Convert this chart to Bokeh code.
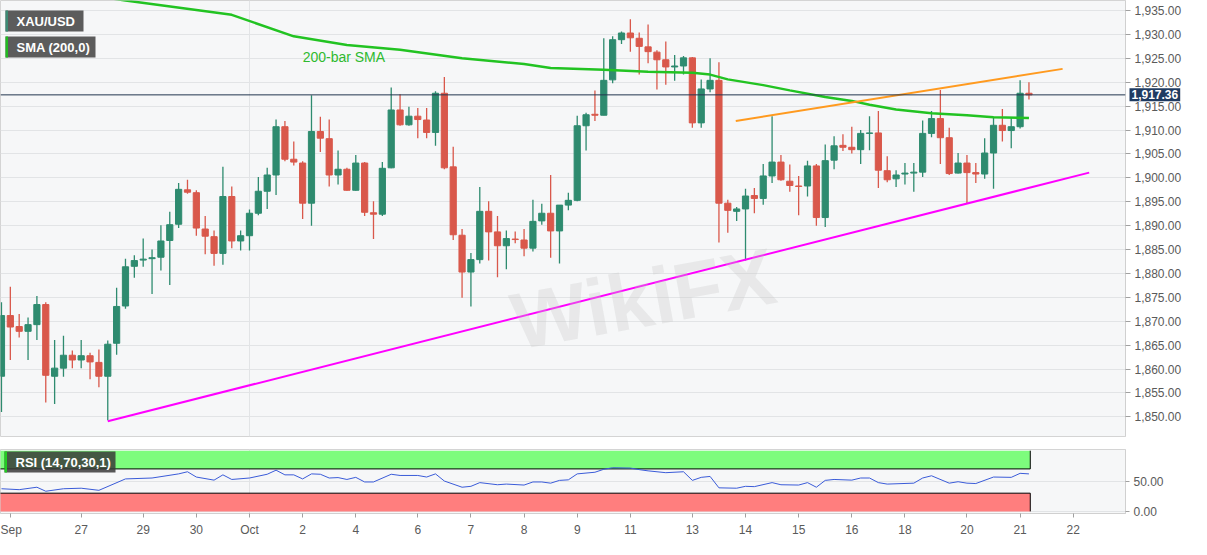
from bokeh.plotting import figure
from bokeh.layouts import column
from bokeh.models import (Range1d, SingleIntervalTicker, FixedTicker, NumeralTickFormatter,
                          Label, BoxAnnotation, Span, ColumnDataSource)
from bokeh.embed import file_html
from bokeh.resources import INLINE

# ---------------- data (4H XAU/USD candles) ----------------
opens = [1858.5, 1871.2, 1868.9, 1867.9, 1869.3, 1873.5, 1858.5, 1860.2, 1862.9, 1861.9,
         1862.8, 1861.4, 1858.5, 1865.4, 1873.2, 1881.5, 1882.8, 1883.1, 1883.4, 1886.9,
         1890.3, 1897.5, 1896.9, 1889.3, 1887.7, 1884.2, 1896.1, 1886.8, 1887.9, 1892.6,
         1897.2, 1900.6, 1910.7, 1903.9, 1903.1, 1894.7, 1909.7, 1908.2, 1900.6, 1901.8,
         1897.4, 1903.1, 1892.7, 1892.4, 1902.1, 1914.2, 1911.1, 1912.9, 1912.1, 1909.5,
         1917.7, 1902.3, 1888.0, 1880.3, 1882.9, 1893.0, 1888.7, 1885.8, 1887.2, 1887.0,
         1885.3, 1891.0, 1892.6, 1888.9, 1894.3, 1895.3, 1910.9, 1913.3, 1913.1, 1920.5,
         1928.9, 1930.3, 1929.2, 1927.4, 1926.3, 1924.7, 1923.2, 1923.4, 1925.1, 1911.5,
         1918.6, 1920.4, 1894.7, 1893.0, 1893.5, 1896.3, 1895.7, 1900.4, 1903.3, 1899.3,
         1898.3, 1898.3, 1902.5, 1891.7, 1903.7, 1906.8, 1906.4, 1905.9, 1909.3, 1909.4,
         1901.5, 1899.8, 1900.8, 1901.0, 1901.2, 1909.3, 1912.4, 1908.4, 1901.0, 1903.1,
         1901.1, 1900.8, 1905.2, 1911.0, 1909.9, 1910.7, 1917.7]
highs = [1874.0, 1877.2, 1871.5, 1870.8, 1875.3, 1874.0, 1866.1, 1867.0, 1863.9, 1866.1,
         1863.4, 1864.1, 1866.0, 1877.0, 1883.1, 1883.8, 1887.3, 1885.0, 1890.1, 1892.9,
         1898.9, 1899.6, 1897.4, 1892.0, 1889.0, 1902.3, 1898.2, 1889.0, 1893.4, 1900.2,
         1902.1, 1912.2, 1911.9, 1907.6, 1903.5, 1917.3, 1912.8, 1912.2, 1905.7, 1902.1,
         1904.8, 1903.3, 1895.1, 1903.3, 1918.9, 1917.5, 1914.9, 1914.6, 1914.6, 1918.1,
         1921.1, 1906.5, 1889.3, 1884.3, 1898.1, 1895.1, 1892.0, 1889.0, 1888.8, 1889.3,
         1895.4, 1894.6, 1900.6, 1894.3, 1896.9, 1913.0, 1913.6, 1918.3, 1929.2, 1929.6,
         1930.6, 1933.2, 1930.4, 1932.1, 1926.7, 1928.5, 1925.7, 1925.5, 1925.3, 1920.6,
         1925.0, 1924.2, 1895.4, 1893.9, 1897.7, 1897.9, 1902.9, 1912.9, 1904.8, 1902.8,
         1900.4, 1903.6, 1902.9, 1907.0, 1908.7, 1909.1, 1910.7, 1910.0, 1912.9, 1914.0,
         1904.5, 1901.6, 1903.1, 1903.1, 1912.0, 1914.0, 1918.4, 1910.5, 1905.2, 1904.8,
         1903.1, 1908.3, 1912.6, 1914.4, 1912.6, 1920.4, 1920.0]
lows = [1851.0, 1861.9, 1866.6, 1861.9, 1866.1, 1853.0, 1852.7, 1858.4, 1860.2, 1860.2,
        1857.9, 1856.2, 1849.3, 1863.0, 1872.6, 1879.1, 1881.4, 1875.7, 1880.6, 1877.6,
        1889.5, 1896.7, 1887.9, 1884.0, 1881.6, 1881.8, 1885.3, 1884.8, 1884.8, 1892.2,
        1893.5, 1896.4, 1903.5, 1902.6, 1891.4, 1890.0, 1905.4, 1898.2, 1898.6, 1897.3,
        1897.3, 1892.0, 1887.2, 1892.0, 1902.0, 1910.9, 1910.9, 1908.3, 1908.3, 1906.7,
        1901.8, 1887.0, 1874.9, 1873.1, 1882.1, 1882.7, 1879.2, 1880.9, 1886.3, 1883.6,
        1884.6, 1890.2, 1883.3, 1882.1, 1893.2, 1895.1, 1905.7, 1911.9, 1913.1, 1919.8,
        1928.0, 1926.4, 1921.6, 1924.0, 1918.5, 1919.5, 1920.3, 1921.6, 1910.5, 1910.5,
        1917.9, 1886.5, 1888.5, 1891.0, 1882.7, 1892.6, 1894.4, 1898.9, 1899.4, 1897.1,
        1892.2, 1896.1, 1890.0, 1889.7, 1901.8, 1905.6, 1905.1, 1902.9, 1905.8, 1897.9,
        1899.1, 1898.1, 1898.6, 1897.1, 1900.2, 1908.5, 1902.9, 1900.6, 1900.9, 1894.6,
        1898.9, 1899.8, 1897.7, 1907.6, 1906.2, 1910.3, 1916.4]
closes = [1871.2, 1868.8, 1867.9, 1869.3, 1873.5, 1858.7, 1860.2, 1862.9, 1861.9, 1862.8,
          1861.5, 1858.5, 1865.2, 1873.1, 1881.4, 1882.7, 1883.0, 1883.3, 1886.8, 1890.2,
          1897.6, 1897.0, 1889.5, 1887.8, 1884.2, 1896.1, 1886.8, 1887.9, 1892.6, 1897.2,
          1900.6, 1910.7, 1903.9, 1903.3, 1894.7, 1909.7, 1908.3, 1900.6, 1901.8, 1897.4,
          1903.1, 1892.8, 1892.4, 1902.0, 1914.2, 1911.1, 1912.9, 1912.2, 1909.5, 1917.7,
          1902.1, 1888.1, 1880.3, 1882.9, 1893.0, 1888.7, 1885.8, 1887.3, 1887.1, 1885.3,
          1890.9, 1892.6, 1888.9, 1894.3, 1895.3, 1910.9, 1913.2, 1913.1, 1920.4, 1928.9,
          1930.3, 1929.3, 1927.5, 1926.4, 1924.7, 1923.2, 1923.4, 1925.1, 1911.5, 1918.6,
          1920.4, 1894.7, 1893.2, 1893.5, 1896.2, 1895.7, 1900.4, 1903.3, 1899.6, 1898.4,
          1898.2, 1902.5, 1891.7, 1903.6, 1906.7, 1906.4, 1905.9, 1909.3, 1909.4, 1901.6,
          1899.6, 1900.6, 1901.0, 1901.2, 1909.3, 1912.4, 1908.4, 1900.9, 1903.1, 1901.1,
          1900.8, 1905.2, 1911.0, 1909.9, 1910.7, 1917.7, 1917.36]

# 200-bar SMA (bar index, value)
sma_idx = [0, 14, 18, 26, 33, 39, 45, 52, 59, 62, 68, 73, 78, 80, 82, 86, 89, 93, 96, 98,
           101, 105, 109, 112, 116]
sma_val = [1941.0, 1937.1, 1936.1, 1934.1, 1929.6, 1927.8, 1926.8, 1925.0, 1923.8, 1923.0,
           1922.6, 1922.2, 1922.0, 1921.6, 1920.6, 1919.4, 1918.3, 1916.9, 1916.1, 1915.3,
           1914.3, 1913.5, 1913.1, 1912.7, 1912.5]

# trend lines (bar index, price)
support_idx = [12, 122.8]
support_val = [1849.1, 1901.1]
resist_idx = [82.9, 119.8]
resist_val = [1911.9, 1922.8]

# RSI (14) (bar index, value)
rsi_idx = [0, 2, 4, 5, 7, 9, 11, 14, 17, 20, 21, 22, 24, 25, 26, 28, 30, 31, 32, 33,
           34, 35, 36, 37, 38, 39, 40, 41, 42, 44, 45, 47, 48, 49, 50, 52, 53, 54, 56, 57,
           59, 60, 61, 62, 63, 64, 65, 67, 68, 69, 71, 72, 73, 75, 77, 78, 79, 80, 81, 83,
           84, 85, 87, 88, 90, 91, 92, 93, 94, 96, 97, 98, 99, 100, 103, 104, 105, 107, 108, 109,
           110, 112, 114, 115, 116]
rsi_val = [37.3, 35.8, 39.8, 33.2, 37.3, 38.2, 34.7, 53.5, 55.0, 61.8, 65.3, 56.6, 51.5, 60.2, 52.6, 55.0, 61.2, 67.9, 60.2, 60.2,
           53.5, 61.8, 61.2, 55.0, 55.7, 52.6, 56.1, 48.5, 48.5, 61.2, 59.2, 59.2, 56.6, 61.8, 50.0, 39.8, 41.3, 47.4, 43.9, 45.0,
           43.4, 48.5, 48.5, 46.5, 51.1, 52.0, 61.8, 64.5, 69.4, 71.9, 71.4, 68.8, 66.8, 63.8, 65.3, 51.1, 56.1, 57.6, 38.8, 38.2,
           41.3, 40.8, 47.4, 43.9, 43.4, 47.4, 39.8, 51.1, 52.6, 51.5, 55.0, 55.0, 47.4, 45.0, 46.5, 55.0, 58.7, 46.5, 48.9, 46.5,
           45.9, 56.6, 56.1, 62.7, 61.8]
rsi_upper = 70
rsi_lower = 30

# x-axis ticks (bar index) and labels
tick_idx = [1, 9, 16, 22, 28, 34, 40, 47, 53, 59, 65, 71, 78, 84, 90, 96, 102, 109, 115, 121]
tick_labels = ["Sep", "27", "29", "30", "Oct", "2", "4", "6", "7", "8", "9", "11", "13",
               "14", "15", "16", "18", "20", "21", "22"]
month_tick = 28

# ---------------- styling ----------------
UP = "#2e8b6f"
DOWN = "#d9584b"
FONT = "Liberation Sans"
AXIS_TXT = "#5a5a5a"
BG = "#f6f7f8"
GRID = "#e2e4e6"

W = 1191
H1 = 449          # main figure height (frame + gap below)
H2_FRAME = 66
H2 = H2_FRAME + 24

n = len(closes)
idx = list(range(n))
colors = [UP if c >= o else DOWN for o, c in zip(opens, closes)]
src = ColumnDataSource(dict(
    x=idx, h=highs, l=lows,
    top=[max(o, c) for o, c in zip(opens, closes)],
    bot=[min(o, c) for o, c in zip(opens, closes)],
    color=colors))

xr = Range1d(-0.11, 126.9)

# ---------------- main price panel ----------------
p = figure(width=W, height=H1, x_range=xr, y_range=Range1d(1845.9, 1937.1),
           y_axis_location="right", output_backend="svg", toolbar_location=None,
           min_border_left=0, min_border_right=66, min_border_top=0, min_border_bottom=9,
           background_fill_color=BG, border_fill_color="white",
           outline_line_color="#d4d4d4")
p.xaxis.visible = False
p.xgrid.ticker = FixedTicker(ticks=[month_tick])
p.xgrid.grid_line_color = GRID
p.ygrid.grid_line_color = GRID
p.yaxis.ticker = SingleIntervalTicker(interval=5, num_minor_ticks=0)
p.ygrid.ticker = SingleIntervalTicker(interval=5, num_minor_ticks=0)
p.yaxis.formatter = NumeralTickFormatter(format="0,0.00")
p.yaxis.major_label_text_font = FONT
p.yaxis.major_label_text_font_size = "12px"
p.yaxis.major_label_text_color = AXIS_TXT
p.yaxis.axis_line_color = "#d0d0d0"
p.yaxis.major_tick_line_color = "#a0a0a0"
p.yaxis.major_tick_in = 0
p.yaxis.major_tick_out = 5
p.yaxis.minor_tick_line_color = None
p.yaxis.major_label_standoff = 4

# watermark
p.add_layout(Label(x=520, y=70, x_units="screen", y_units="screen", text="WikiFX",
                   text_font=FONT, text_font_size="80px", text_font_style="bold",
                   text_color="#c8c8c8", text_alpha=0.3, angle=0.18))

p.segment(x0="x", y0="l", x1="x", y1="h", line_color="color", line_width=1.3, source=src)
p.vbar(x="x", width=0.7, top="top", bottom="bot", fill_color="color", line_color="color",
       line_width=1, source=src)

p.line(sma_idx, sma_val, line_color="#22c322", line_width=2.5)
p.line(support_idx, support_val, line_color="#ff00ff", line_width=2)
p.line(resist_idx, resist_val, line_color="#ff9a1f", line_width=2)

last = closes[-1]
p.add_layout(Span(location=last, dimension="width", line_color="#22364f", line_width=1))
# price tag: placed in a side panel so that it is not clipped to the frame;
# its position still comes from the data scales
p.add_layout(Label(x=xr.end, y=last, x_offset=4, text=f"{last:,.2f}", text_baseline="middle",
                   text_align="left", text_font=FONT, text_font_size="12px",
                   text_font_style="bold", text_color="white",
                   background_fill_color="#1f3b61", padding=2), "below")

p.add_layout(Label(x=sma_idx[5] - 5, y=1925.2, text="200-bar SMA", text_baseline="middle",
                   text_font=FONT, text_font_size="14px", text_color="#2fba2f"))

# legend boxes
def legend_box(fig, frame_h, left, right, top, bottom, strip_color, text, fill, alpha=1.0):
    fig.add_layout(BoxAnnotation(left=left, right=right, top=frame_h - top, bottom=frame_h - bottom,
                                 left_units="screen", right_units="screen",
                                 top_units="screen", bottom_units="screen",
                                 fill_color=fill, fill_alpha=alpha, line_color=None))
    fig.add_layout(BoxAnnotation(left=left, right=left + 2.5, top=frame_h - top, bottom=frame_h - bottom,
                                 left_units="screen", right_units="screen",
                                 top_units="screen", bottom_units="screen",
                                 fill_color=strip_color, fill_alpha=1, line_color=None))
    fig.add_layout(Label(x=left + 11, y=frame_h - (top + bottom) / 2, x_units="screen", y_units="screen",
                         text=text, text_baseline="middle", text_font=FONT,
                         text_font_size="13px", text_font_style="bold", text_color="white"))

H1_FRAME_EST = 431
legend_box(p, H1_FRAME_EST, 5, 83, 5, 26, "#3c8a74", "XAU/USD", "#5c5c5c")
legend_box(p, H1_FRAME_EST, 5, 95, 31, 52, "#22bb22", "SMA (200,0)", "#5c5c5c")

# ---------------- RSI panel ----------------
r = figure(width=W, height=H2, x_range=xr, y_range=Range1d(-3.5, 102),
           y_axis_location="right", output_backend="svg", toolbar_location=None,
           min_border_left=0, min_border_right=66, min_border_top=0, min_border_bottom=24,
           background_fill_color=BG, border_fill_color="white",
           outline_line_color="#d4d4d4")
zone_end = n - 1 + 0.15
r.quad(left=[-1], right=[zone_end], bottom=[rsi_upper], top=[100],
       fill_color="#7dfc7d", line_color=None)
r.quad(left=[-1], right=[zone_end], bottom=[0], top=[rsi_lower],
       fill_color="#ff7e7e", line_color=None)
r.segment(x0=[-1, -1, zone_end, zone_end], y0=[rsi_upper, rsi_lower, rsi_upper, 0],
          x1=[zone_end, zone_end, zone_end, zone_end], y1=[rsi_upper, rsi_lower, 100, rsi_lower],
          line_color="black", line_width=1)
r.line(rsi_idx, rsi_val, line_color="#3a5bd8", line_width=1)

r.xgrid.ticker = FixedTicker(ticks=[month_tick])
r.xgrid.grid_line_color = GRID
r.ygrid.ticker = FixedTicker(ticks=[0, 50])
r.ygrid.grid_line_color = GRID
r.yaxis.ticker = FixedTicker(ticks=[0, 50])
r.yaxis.formatter = NumeralTickFormatter(format="0.00")
r.xaxis.ticker = FixedTicker(ticks=tick_idx)
r.xaxis.major_label_overrides = {t: s for t, s in zip(tick_idx, tick_labels)}
for ax in (r.xaxis, r.yaxis):
    ax.major_label_text_font = FONT
    ax.major_label_text_font_size = "12px"
    ax.major_label_text_color = AXIS_TXT
    ax.axis_line_color = "#d0d0d0"
    ax.major_tick_line_color = "#a0a0a0"
    ax.major_tick_in = 0
    ax.major_tick_out = 4
    ax.minor_tick_line_color = None
r.yaxis.major_label_standoff = 4
r.xaxis.major_label_standoff = 5

legend_box(r, H2_FRAME, 4, 115, 4, 25, "#22cc22", "RSI (14,70,30,1)", "#3a3a3a", 0.85)

layout = column(p, r)
open("out.html", "w").write(file_html(layout, INLINE))
